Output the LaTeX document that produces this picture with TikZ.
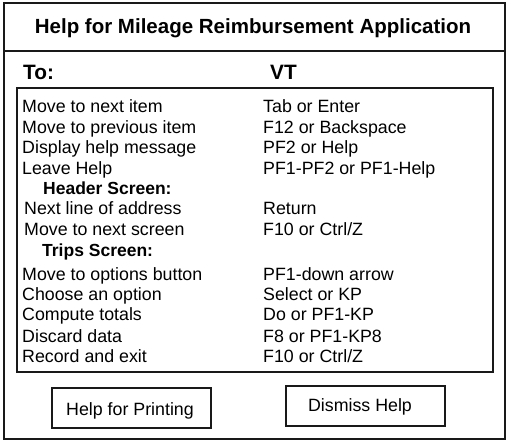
\documentclass[tikz,border=0pt]{standalone}
\usepackage{fontspec}
\setmainfont{Liberation Sans}
\begin{document}
\begin{tikzpicture}[x=1pt,y=-1pt,
  frame/.style={draw=black!90,line width=2pt},
  item/.style={anchor=base west,inner sep=0pt,font=\fontsize{17.8}{20}\selectfont},
  sub/.style={anchor=base west,inner sep=0pt,font=\fontsize{17.5}{20}\selectfont\bfseries},
  head/.style={anchor=base west,inner sep=0pt,font=\fontsize{20.8}{24}\selectfont\bfseries},
  btntext/.style={anchor=base,inner sep=0pt,font=\fontsize{17.8}{20}\selectfont}]
\useasboundingbox (0,0) rectangle (511,443);
% outer window
\draw[frame] (3.5,3.5) rectangle (505,438.5);
\draw[frame] (3.5,51) -- (505,51);
\node[anchor=base,inner sep=0pt,font=\fontsize{20.5}{24}\selectfont\bfseries] (title) at (253,34) {Help for Mileage Reimbursement Application};
\node[head] (to) at (23,80) {To:};
\node[head] (vt) at (270,80) {VT};
% inner box
\draw[frame] (16.5,88.5) rectangle (493,371.5);
\node[item] (l1) at (22,113) {Move to next item};
\node[item] (r1) at (263,113) {Tab or Enter};
\node[item] (l2) at (22,133.5) {Move to previous item};
\node[item] (r2) at (263,133.5) {F12 or Backspace};
\node[item] (l3) at (22,154) {Display help message};
\node[item] (r3) at (263,154) {PF2 or Help};
\node[item] (l4) at (22,174.5) {Leave Help};
\node[item] (r4) at (263,174.5) {PF1-PF2 or PF1-Help};
\node[sub] (hs) at (43,194.5) {Header Screen:};
\node[item] (l5) at (24,215) {Next line of address};
\node[item] (r5) at (263,215) {Return};
\node[item] (l6) at (24,236) {Move to next screen};
\node[item] (r6) at (263,236) {F10 or Ctrl/Z};
\node[sub] (ts) at (42,256.5) {Trips Screen:};
\node[item] (l7) at (22,281) {Move to options button};
\node[item] (r7) at (263,281) {PF1-down arrow};
\node[item] (l8) at (22,301) {Choose an option};
\node[item] (r8) at (263,301) {Select or KP};
\node[item] (l9) at (22,321) {Compute totals};
\node[item] (r9) at (263,321) {Do or PF1-KP};
\node[item] (l10) at (22,342) {Discard data};
\node[item] (r10) at (263,342) {F8 or PF1-KP8};
\node[item] (l11) at (22,362) {Record and exit};
\node[item] (r11) at (263,362) {F10 or Ctrl/Z};
% buttons
\draw[frame] (52,387.5) rectangle (211,427.5);
\node[btntext] (bp) at (130,415) {Help for Printing};
\draw[frame] (285.5,386) rectangle (445,426);
\node[btntext] (bd) at (360,411.5) {Dismiss Help};
\end{tikzpicture}
\end{document}
